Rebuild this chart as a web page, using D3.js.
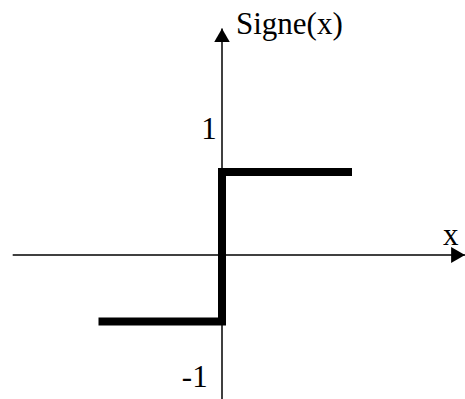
<!DOCTYPE html>
<html>
<head>
<meta charset="utf-8">
<script src="https://cdn.jsdelivr.net/npm/d3@7"></script>
<style>
  html, body { margin: 0; padding: 0; background: #fff; }
  svg { display: block; }
  text { font-family: "Liberation Serif", "Times New Roman", "DejaVu Serif", serif; fill: #000; }
</style>
</head>
<body>
<div id="chart"></div>
<script>
// ---- Data ----
const stepX = [-0.95, 0, 0, 1];         // x values of the sign function path
const stepY = [-0.8, -0.8, 1, 1];       // y values of the sign function path
const xAxisExtent = [-1.61, 1.87];      // horizontal axis span
const yAxisExtent = [-1.74, 2.73];      // vertical axis span
const tickLabels = ["1", "-1"];
const tickLabelX = [-0.04, -0.11];
const tickLabelY = [1.4, -1.59];
const yTitle = "Signe(x)";
const xTitle = "x";

const W = 465, H = 399;
const svg = d3.select("#chart").append("svg").attr("width", W).attr("height", H);

const x = d3.scaleLinear().domain([0, 1]).range([222, 352]);
const y = d3.scaleLinear().domain([0, 1]).range([255, 172]);

// Arrow marker
const defs = svg.append("defs");
defs.append("marker")
  .attr("id", "arrow")
  .attr("viewBox", "0 0 14 16")
  .attr("refX", 14).attr("refY", 8)
  .attr("markerWidth", 14).attr("markerHeight", 16)
  .attr("markerUnits", "userSpaceOnUse")
  .attr("orient", "auto")
  .append("path")
  .attr("d", "M0,0 L14,8 L0,16 Z")
  .attr("fill", "#000");

// Horizontal axis
svg.append("line")
  .attr("x1", x(xAxisExtent[0])).attr("x2", x(xAxisExtent[1]))
  .attr("y1", y(0)).attr("y2", y(0))
  .attr("stroke", "#000").attr("stroke-width", 1.5)
  .attr("marker-end", "url(#arrow)");

// Vertical axis
svg.append("line")
  .attr("x1", x(0)).attr("x2", x(0))
  .attr("y1", y(yAxisExtent[0])).attr("y2", y(yAxisExtent[1]))
  .attr("stroke", "#000").attr("stroke-width", 1.5)
  .attr("marker-end", "url(#arrow)");

// Step function
const pts = stepX.map((v, i) => [v, stepY[i]]);
const line = d3.line().x(d => x(d[0])).y(d => y(d[1]));
svg.append("path")
  .attr("d", line(pts))
  .attr("fill", "none")
  .attr("stroke", "#000")
  .attr("stroke-width", 8)
  .attr("stroke-linejoin", "miter")
  .attr("stroke-linecap", "butt");

// Labels
svg.append("text")
  .attr("x", x(0) + 14).attr("y", 34)
  .attr("font-size", 31)
  .text(yTitle);

svg.append("text")
  .attr("x", x(1.76)).attr("y", y(0) - 10)
  .attr("text-anchor", "middle")
  .attr("font-size", 31)
  .text(xTitle);

svg.selectAll(".tick-label")
  .data(tickLabels)
  .enter().append("text")
  .attr("class", "tick-label")
  .attr("x", (d, i) => x(tickLabelX[i]))
  .attr("y", (d, i) => y(tickLabelY[i]))
  .attr("text-anchor", "end")
  .attr("font-size", 31)
  .text(d => d);
</script>
</body>
</html>
